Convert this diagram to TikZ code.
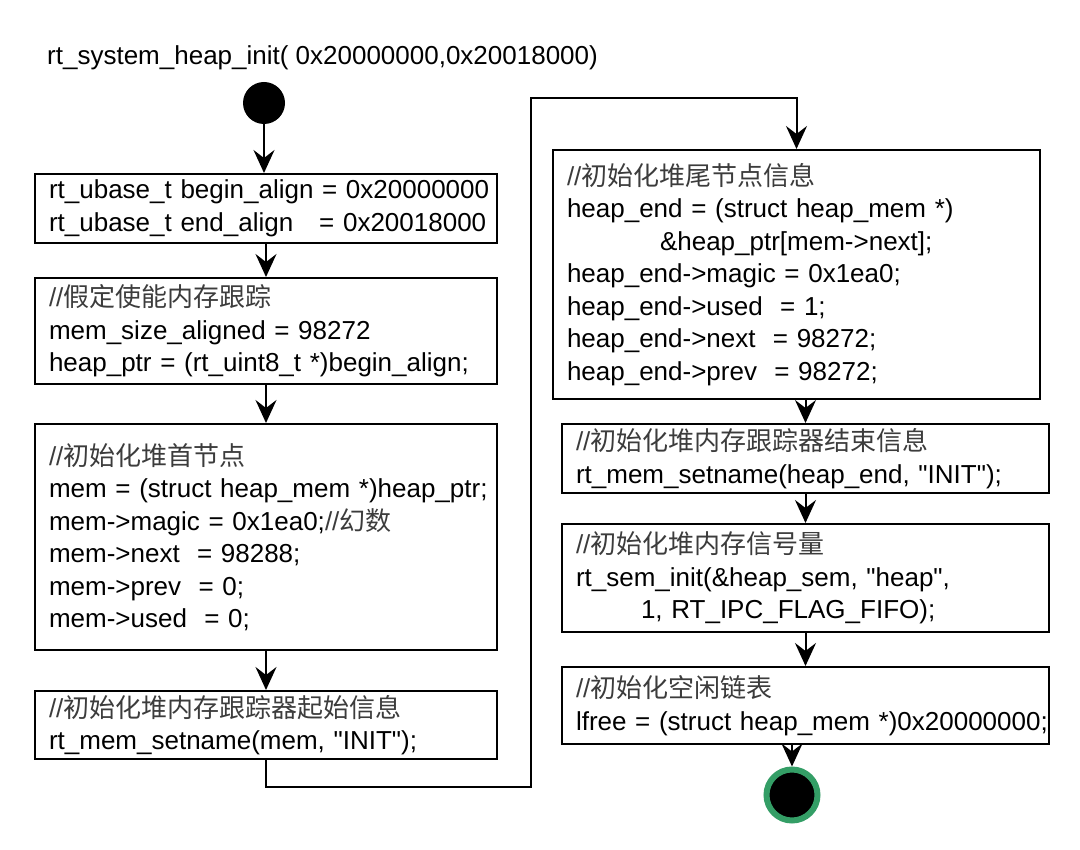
\documentclass[tikz,border=0pt]{standalone}
\usepackage{fontspec}
\newfontfamily\codef{Liberation Sans}
\newfontfamily\cjk{Noto Sans CJK SC}
\usetikzlibrary{arrows.meta}
\definecolor{endgreen}{RGB}{52,158,102}
\definecolor{cjkgray}{RGB}{60,60,60}
\newcommand\codeln[1]{\mbox{#1}}
\newcommand\cmt[1]{{\color{cjkgray}//\cjk#1}}
\begin{document}
\begin{tikzpicture}[x=1pt,y=-1pt,
  box/.style={draw, line width=2pt, rectangle, inner xsep=14pt, inner ysep=0pt,
    align=left, anchor=north west, font=\codef\fontsize{26}{32.5}\selectfont},
  arr/.style={line width=2pt, -{Stealth[length=23pt,width=21pt,inset=8pt]}}]
\fill[white] (0,0) rectangle (1080,850);

\node[anchor=base west, font=\codef\fontsize{26}{32.5}\selectfont, inner sep=0pt] (title) at (47,65)
  {rt\_system\_heap\_init( 0x20000000,0x20018000)};

\node[circle, fill=black, minimum size=42pt, inner sep=0pt] (start) at (264,103) {};

\node[box, text width=434pt, minimum height=69pt] (b1) at (34,173) {%
\codeln{rt\_ubase\_t begin\_align = 0x20000000}\\
\codeln{rt\_ubase\_t end\_align\ \ \ = 0x20018000}};

\node[box, text width=434pt, minimum height=106pt] (b2) at (34,277) {%
\codeln{\cmt{假定使能内存跟踪}}\\
\codeln{mem\_size\_aligned = 98272}\\
\codeln{heap\_ptr = (rt\_uint8\_t *)begin\_align;}};

\node[box, text width=434pt, minimum height=226pt] (b3) at (34,423) {%
\codeln{\cmt{初始化堆首节点}}\\
\codeln{mem = (struct heap\_mem *)heap\_ptr;}\\
\codeln{mem->magic = 0x1ea0;\cmt{幻数}}\\
\codeln{mem->next\ \ = 98288;}\\
\codeln{mem->prev\ \ = 0;}\\
\codeln{mem->used\ \ = 0;}};

\node[box, text width=434pt, minimum height=68pt] (b4) at (34,690) {%
\codeln{\cmt{初始化堆内存跟踪器起始信息}}\\
\codeln{rt\_mem\_setname(mem, "INIT");}};

\node[box, text width=459pt, minimum height=249pt] (b5) at (552,149) {%
\codeln{\cmt{初始化堆尾节点信息}}\\
\codeln{heap\_end = (struct heap\_mem *)}\\
\codeln{\hspace*{93pt}\&heap\_ptr[mem->next];}\\
\codeln{heap\_end->magic = 0x1ea0;}\\
\codeln{heap\_end->used\ \ = 1;}\\
\codeln{heap\_end->next\ \ = 98272;}\\
\codeln{heap\_end->prev\ \ = 98272;}};

\node[box, text width=459pt, minimum height=69pt] (b6) at (561,423) {%
\codeln{\cmt{初始化堆内存跟踪器结束信息}}\\
\codeln{rt\_mem\_setname(heap\_end, "INIT");}};

\node[box, text width=459pt, minimum height=108pt] (b7) at (561,523) {%
\codeln{\cmt{初始化堆内存信号量}}\\
\codeln{rt\_sem\_init(\&heap\_sem, "heap",}\\
\codeln{\hspace*{65pt}1, RT\_IPC\_FLAG\_FIFO);}};

\node[box, text width=459pt, minimum height=77pt] (b8) at (561,666) {%
\codeln{\cmt{初始化空闲链表}}\\
\codeln{lfree = (struct heap\_mem *)0x20000000;}};

\node[circle, fill=black, draw=endgreen, line width=6pt, minimum size=51pt, inner sep=0pt] (end) at (792,795) {};

\coordinate (c1) at (531,787);
\coordinate (c2) at (531,98);

\draw[arr] (start) -- (b1.north -| start);
\draw[arr] (b1.south) -- (b2.north);
\draw[arr] (b2.south) -- (b3.north);
\draw[arr] (b3.south) -- (b4.north);
\draw[arr] (b4.south) |- (c1) -- (c2) -| (b5.north);
\draw[arr] (b6.north |- b5.south) -- (b6.north);
\draw[arr] (b6.south) -- (b7.north);
\draw[arr] (b7.south) -- (b8.north);
\draw[arr] (end.north |- b8.south) -- (end.north);
\end{tikzpicture}
\end{document}
